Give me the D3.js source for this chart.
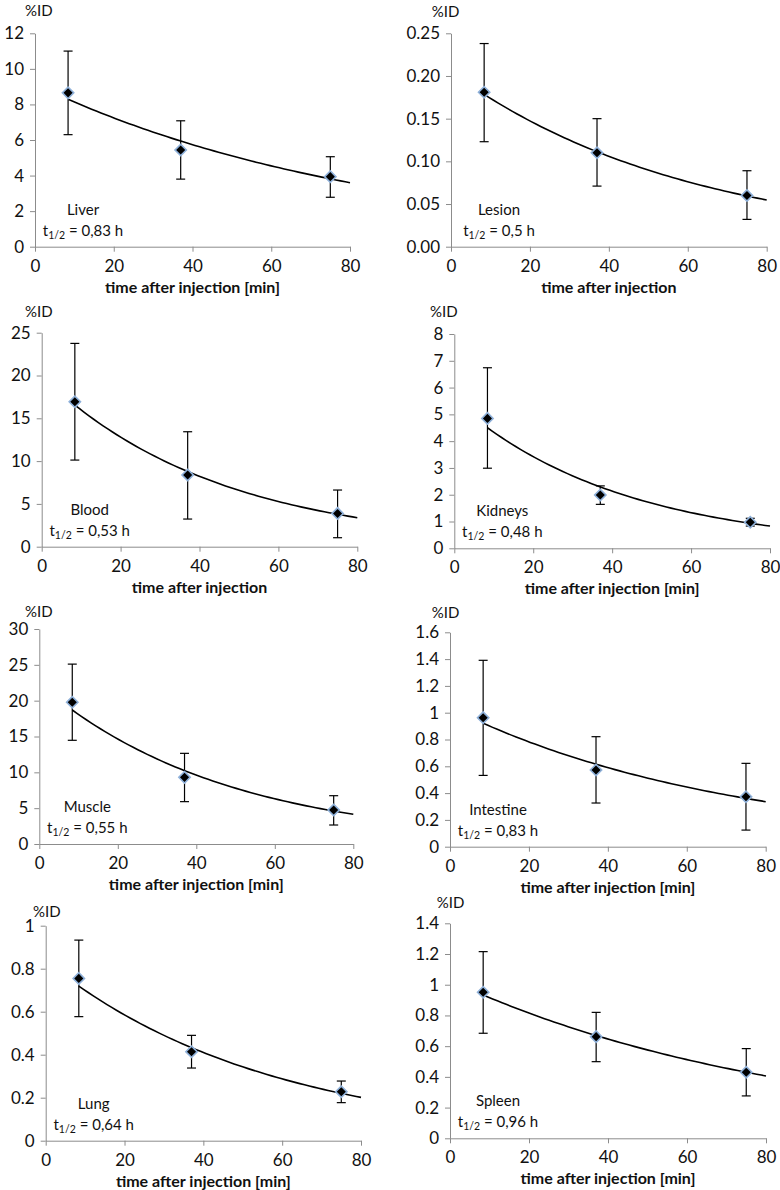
<!DOCTYPE html>
<html><head><meta charset="utf-8">
<script src="https://cdn.jsdelivr.net/npm/d3@7"></script>
<style>
body{margin:0;background:#fff;}
svg{display:block;font-family:Lato,"Open Sans",sans-serif;}
</style></head><body>
<svg id="chart" width="780" height="1190"></svg>
<script>
// ---- data ----
const organs = ["Liver","Lesion","Blood","Kidneys","Muscle","Intestine","Lung","Spleen"];
const halfLives = ["0,83","0,5","0,53","0,48","0,55","0,83","0,64","0,96"];
const xTitles = ["time after injection [min]","time after injection","time after injection","time after injection [min]",
                 "time after injection [min]","time after injection [min]","time after injection [min]","time after injection [min]"];
const times = [8.4, 37, 75];
const xTicks = [0, 20, 40, 60, 80];
const yMax = [12, 0.25, 25, 8, 30, 1.6, 1, 1.4];
const yStep = [2, 0.05, 5, 1, 5, 0.2, 0.2, 0.2];
const yDecimals = [0, 2, 0, 0, 0, -1, -1, -1]; // -1 = general format

const liverMean = [8.65, 5.44, 3.94],  liverHi = [11.0, 7.08, 5.06],  liverLo = [6.3, 3.8, 2.78];
const lesionMean = [0.181, 0.110, 0.060], lesionHi = [0.238, 0.150, 0.089], lesionLo = [0.123, 0.071, 0.032];
const bloodMean = [16.94, 8.37, 3.89], bloodHi = [23.75, 13.43, 6.62], bloodLo = [10.12, 3.23, 1.05];
const kidneysMean = [4.85, 1.99, 0.97], kidneysHi = [6.74, 2.33, 1.12], kidneysLo = [2.99, 1.64, 0.83];
const muscleMean = [19.77, 9.30, 4.74], muscleHi = [25.1, 12.65, 6.74], muscleLo = [14.47, 5.91, 2.65];
const intestineMean = [0.963, 0.572, 0.373], intestineHi = [1.391, 0.821, 0.622], intestineLo = [0.532, 0.326, 0.124];
const lungMean = [0.755, 0.414, 0.228], lungHi = [0.933, 0.490, 0.2775], lungLo = [0.577, 0.338, 0.177];
const spleenMean = [0.951, 0.662, 0.430], spleenHi = [1.2155, 0.820, 0.584], spleenLo = [0.684, 0.499, 0.276];

const means = [liverMean, lesionMean, bloodMean, kidneysMean, muscleMean, intestineMean, lungMean, spleenMean];
const highs = [liverHi, lesionHi, bloodHi, kidneysHi, muscleHi, intestineHi, lungHi, spleenHi];
const lows  = [liverLo, lesionLo, bloodLo, kidneysLo, muscleLo, intestineLo, lungLo, spleenLo];

// exponential trendline, value read at first time point and at t = 80
const fitStart = [8.29, 0.1785, 16.55, 4.50, 18.7, 0.921, 0.719, 0.933];
const fitEnd   = [3.60, 0.0547, 3.39, 0.83, 4.14, 0.336, 0.2016, 0.406];

// ---- layout ----
const layout = [
  {l:35,   r:350,   t:33.3,  b:246.7,  idx:25,    idy:15.5},
  {l:451,  r:766.7, t:33.3,  b:246.7,  idx:431.7, idy:16.5},
  {l:41.7, r:357.3, t:332.7, b:546.7,  idx:25,    idy:316.7},
  {l:454.3,r:770,   t:334,   b:548.3,  idx:430,   idy:316.7},
  {l:39.3, r:353.3, t:629,   b:844,    idx:25,    idy:616.7},
  {l:450,  r:765.7, t:632.3, b:846.7,  idx:431.7, idy:618.3},
  {l:45.7, r:361,   t:925.7, b:1140.7, idx:33,    idy:916.7},
  {l:450,  r:766,   t:923.3, b:1138.3, idx:436.7, idy:908.3}
];

const svg = d3.select("#chart");
const axisColor = "#8c8c8c";

organs.forEach((name, i) => {
  const L = layout[i];
  const x = d3.scaleLinear().domain([0, 80]).range([L.l, L.r]);
  const y = d3.scaleLinear().domain([0, yMax[i]]).range([L.b, L.t]);
  const g = svg.append("g");
  const yTicks = d3.range(0, yMax[i] + yStep[i] / 2, yStep[i]);
  const fmt = yDecimals[i] >= 0 ? d3.format("." + yDecimals[i] + "f") : (v => String(+v.toFixed(4)));

  const ya = g.append("g").attr("transform", `translate(${L.l},0)`)
    .call(d3.axisLeft(y).tickValues(yTicks).tickFormat(fmt).tickSizeInner(5).tickSizeOuter(0).tickPadding(6));
  const xa = g.append("g").attr("transform", `translate(0,${L.b})`)
    .call(d3.axisBottom(x).tickValues(xTicks).tickFormat(d3.format("d")).tickSizeInner(5).tickSizeOuter(0).tickPadding(8));
  [ya, xa].forEach(a => {
    a.select(".domain").attr("stroke", axisColor).attr("stroke-width", 1);
    a.selectAll(".tick line").attr("stroke", axisColor);
    a.selectAll(".tick text").attr("fill", "#111").style("font-size", "17px").style("font-family", "Lato");
  });

  // %ID label
  g.append("text").attr("x", L.idx).attr("y", L.idy).style("font-size", "15px").attr("fill", "#111").text("%ID");

  // x title
  g.append("text").attr("x", (L.l + L.r) / 2).attr("y", L.b + 46).attr("text-anchor", "middle")
    .style("font-size", "16px").style("font-weight", "bold").attr("fill", "#111").text(xTitles[i]);

  // annotation
  const cx = L.l + 48;
  g.append("text").attr("x", cx).attr("y", L.b - 32).attr("text-anchor", "middle")
    .style("font-size", "15px").attr("fill", "#111").text(name);
  const tt = g.append("text").attr("x", cx).attr("y", L.b - 11).attr("text-anchor", "middle")
    .style("font-size", "15px").attr("fill", "#111");
  tt.append("tspan").text("t");
  tt.append("tspan").attr("dy", 3).style("font-size", "10.5px").text("1/2");
  tt.append("tspan").attr("dy", -3).text(" = " + halfLives[i] + " h");

  const pts = times.map((t, k) => ({t, m: means[i][k], hi: highs[i][k], lo: lows[i][k]}));

  // error bars
  const eb = g.append("g").attr("stroke", "#000").attr("stroke-width", 1.2);
  pts.forEach(p => {
    eb.append("line").attr("x1", x(p.t)).attr("x2", x(p.t)).attr("y1", y(p.hi)).attr("y2", y(p.lo));
    eb.append("line").attr("x1", x(p.t) - 4.5).attr("x2", x(p.t) + 4.5).attr("y1", y(p.hi)).attr("y2", y(p.hi));
    eb.append("line").attr("x1", x(p.t) - 4.5).attr("x2", x(p.t) + 4.5).attr("y1", y(p.lo)).attr("y2", y(p.lo));
  });

  // trendline
  const t0 = times[0], t1 = 80;
  const k = Math.log(fitStart[i] / fitEnd[i]) / (t1 - t0);
  const curve = d3.range(0, 61).map(j => {
    const t = t0 + (t1 - t0) * j / 60;
    return [t, fitStart[i] * Math.exp(-k * (t - t0))];
  });
  g.append("path").datum(curve)
    .attr("d", d3.line().x(d => x(d[0])).y(d => y(d[1])))
    .attr("fill", "none").attr("stroke", "#000").attr("stroke-width", 1.6);

  // markers
  const sym = d3.symbol().type(d3.symbolSquare).size(64);
  g.append("g").selectAll("path").data(pts).join("path")
    .attr("d", sym)
    .attr("transform", p => `translate(${x(p.t)},${y(p.m)}) rotate(45)`)
    .attr("fill", "#000").attr("stroke", "#8fb1da").attr("stroke-width", 1.6);
});
</script>
</body></html>
